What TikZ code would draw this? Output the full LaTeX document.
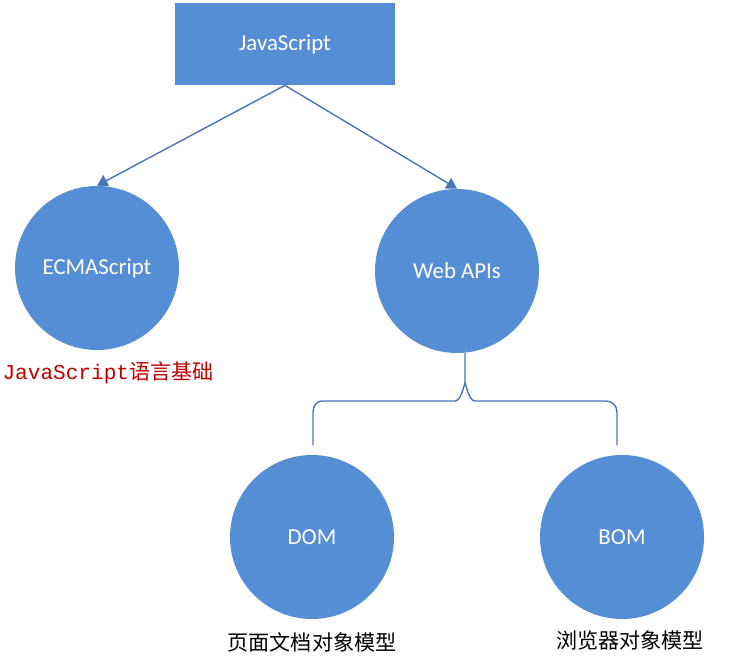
\documentclass[tikz,border=0pt]{standalone}
\usepackage{fontspec}
\setmainfont{Carlito}
\newfontfamily\cjk{Noto Sans CJK SC}
\newfontfamily\mono{Liberation Mono}
\usetikzlibrary{arrows.meta}
\definecolor{boxblue}{HTML}{558ED5}
\definecolor{lineblue}{HTML}{4A76B4}
\definecolor{notered}{HTML}{C00000}
\begin{document}
\begin{tikzpicture}[x=0.02cm,y=-0.02cm,>={Triangle[length=6pt,width=7pt]}]
  \tikzset{
    topic/.style={circle,fill=boxblue,minimum size=164*0.02cm,inner sep=0pt,
      text=white,font=\fontsize{13}{15}\selectfont},
    link/.style={draw=lineblue,line width=0.8pt},
    note/.style={font=\cjk\fontsize{12}{14}\selectfont}
  }
  \useasboundingbox (0,0) rectangle (729,668);
  \node (js) [fill=boxblue,minimum width=220*0.02cm,minimum height=82*0.02cm,
    text=white,font=\fontsize{13}{15}\selectfont] at (285,44) {JavaScript};
  \node (ecma) [topic] at (97,268) {ECMAScript};
  \node (web) [topic] at (457,271) {Web APIs};
  \node (dom) [topic] at (312,537) {DOM};
  \node (bom) [topic] at (622,537) {BOM};
  \draw[link,->] (js.south) -- (ecma.north);
  \draw[link,->] (js.south) -- (web.north);
  % brace under Web APIs
  \coordinate (fork) at (465,401);
  \draw[link] (465,353) -- (465,385) to[out=90,in=0] (455,401) -- (322,401)
    to[out=180,in=90] (313,412) -- (313,445);
  \draw[link] (465,385) to[out=90,in=180] (475,401) -- (606,401)
    to[out=0,in=90] (617,412) -- (617,445);
  \node (ecmanote) [note,text=notered] at (108,373)
    {{\mono\fontsize{12}{14}\selectfont JavaScript}语言基础};
  \node (domnote) [note] at (312,642) {页面文档对象模型};
  \node (bomnote) [note] at (630,640) {浏览器对象模型};
\end{tikzpicture}
\end{document}
